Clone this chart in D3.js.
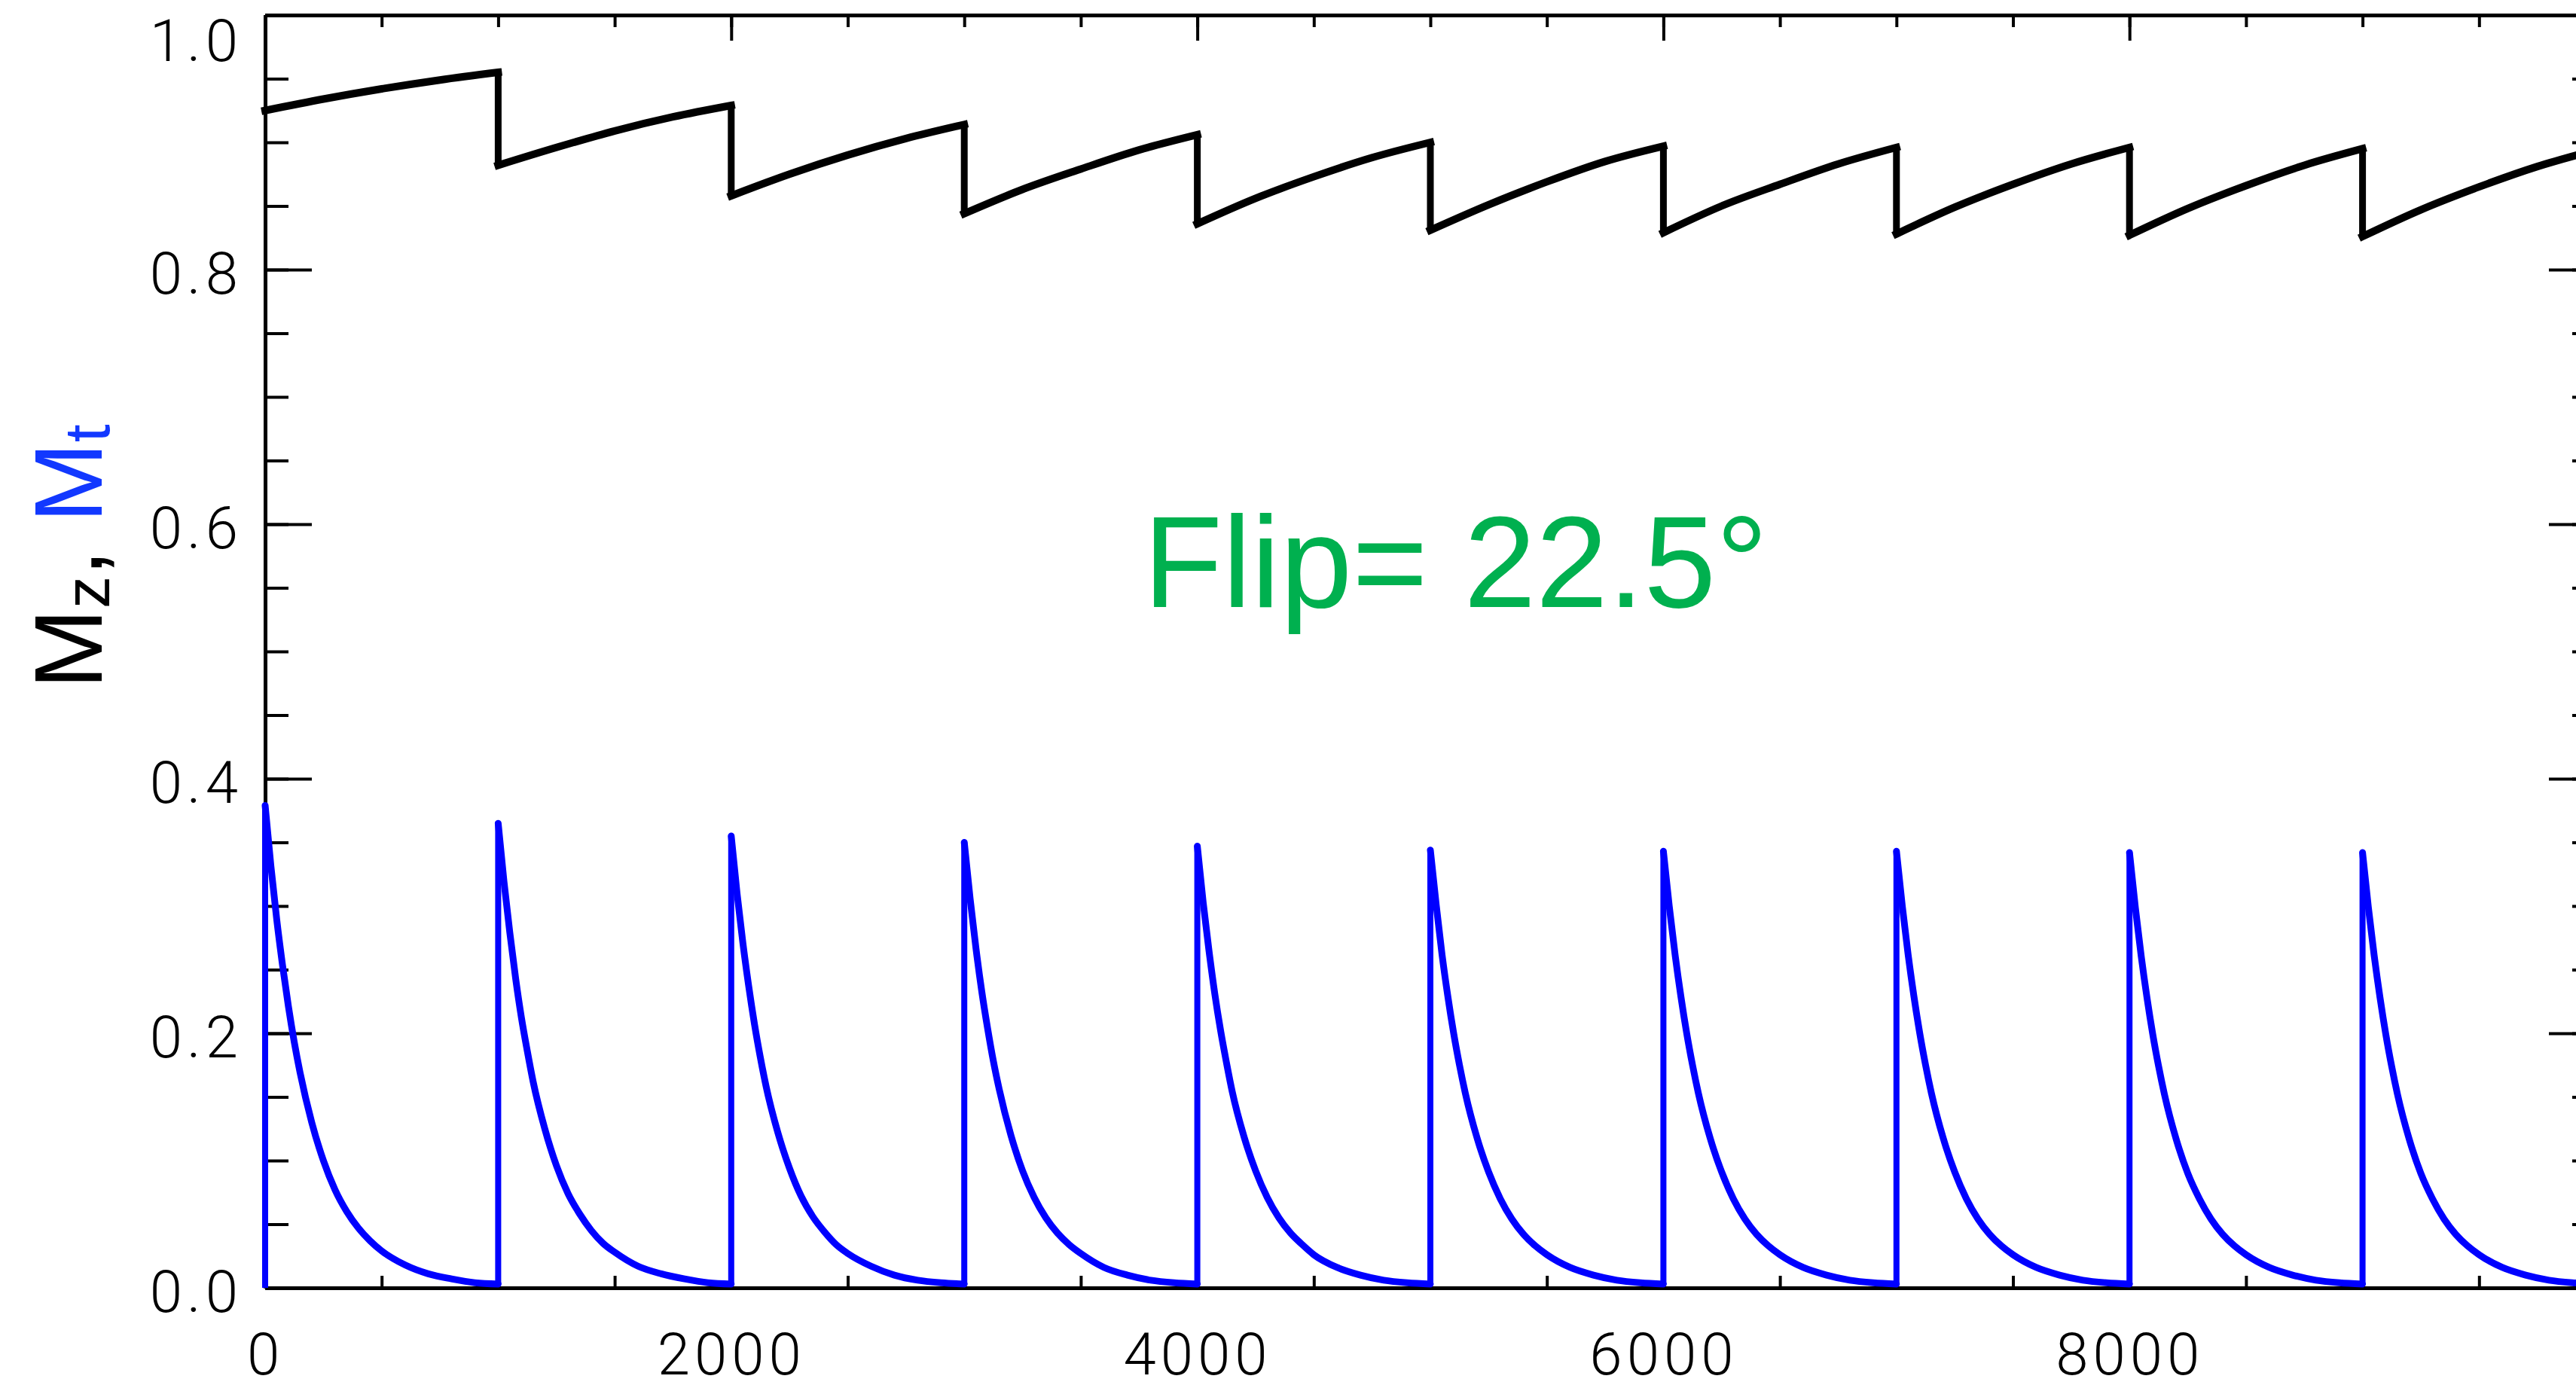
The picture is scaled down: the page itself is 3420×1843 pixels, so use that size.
<!DOCTYPE html>
<html>
<head>
<meta charset="utf-8">
<script src="https://cdn.jsdelivr.net/npm/d3@7"></script>
<style>
  body { margin: 0; background: #fff; }
  svg { display: block; }
</style>
</head>
<body>
<div id="chart"></div>
<script>
// pulse times and sampling offsets inside each repetition
const pulseTimes = [0, 1000, 2000, 3000, 4000, 5000, 6000, 7000, 8000, 9000];
const mtOffsets = [0, 25, 50, 75, 100, 125, 150, 200, 250, 300, 350, 400, 450, 500, 600, 700, 800, 900, 1000];
const mzOffsets = [0, 250, 500, 750, 1000];

// transverse magnetisation, one row per repetition
const mtValues = [
  [0.379, 0.331, 0.289, 0.253, 0.221, 0.193, 0.169, 0.130, 0.100, 0.077, 0.060, 0.047, 0.037, 0.029, 0.018, 0.011, 0.007, 0.004, 0.003],
  [0.365, 0.319, 0.279, 0.243, 0.212, 0.186, 0.162, 0.125, 0.096, 0.074, 0.058, 0.045, 0.035, 0.028, 0.017, 0.011, 0.007, 0.004, 0.003],
  [0.355, 0.310, 0.271, 0.237, 0.207, 0.181, 0.158, 0.122, 0.094, 0.072, 0.056, 0.044, 0.034, 0.027, 0.017, 0.010, 0.006, 0.004, 0.003],
  [0.350, 0.306, 0.267, 0.233, 0.204, 0.178, 0.156, 0.120, 0.092, 0.071, 0.055, 0.043, 0.034, 0.027, 0.016, 0.010, 0.006, 0.004, 0.003],
  [0.347, 0.303, 0.265, 0.231, 0.202, 0.177, 0.154, 0.119, 0.092, 0.071, 0.055, 0.043, 0.034, 0.026, 0.016, 0.010, 0.006, 0.004, 0.003],
  [0.344, 0.301, 0.262, 0.229, 0.200, 0.175, 0.153, 0.118, 0.091, 0.070, 0.054, 0.042, 0.033, 0.026, 0.016, 0.010, 0.006, 0.004, 0.003],
  [0.343, 0.300, 0.262, 0.229, 0.200, 0.175, 0.153, 0.118, 0.091, 0.070, 0.054, 0.042, 0.033, 0.026, 0.016, 0.010, 0.006, 0.004, 0.003],
  [0.343, 0.300, 0.262, 0.229, 0.200, 0.175, 0.153, 0.118, 0.091, 0.070, 0.054, 0.042, 0.033, 0.026, 0.016, 0.010, 0.006, 0.004, 0.003],
  [0.342, 0.299, 0.261, 0.228, 0.199, 0.174, 0.152, 0.117, 0.090, 0.070, 0.054, 0.042, 0.033, 0.026, 0.016, 0.010, 0.006, 0.004, 0.003],
  [0.342, 0.299, 0.261, 0.228, 0.199, 0.174, 0.152, 0.117, 0.090, 0.070, 0.054, 0.042, 0.033, 0.026, 0.016, 0.010, 0.006, 0.004, 0.003]
];

// longitudinal magnetisation, one row per repetition
const mzValues = [
  [0.925, 0.934, 0.942, 0.949, 0.955],
  [0.882, 0.896, 0.909, 0.920, 0.929],
  [0.858, 0.875, 0.890, 0.903, 0.914],
  [0.844, 0.863, 0.879, 0.894, 0.906],
  [0.836, 0.856, 0.873, 0.888, 0.900],
  [0.831, 0.851, 0.869, 0.885, 0.897],
  [0.829, 0.850, 0.867, 0.883, 0.896],
  [0.828, 0.849, 0.867, 0.883, 0.896],
  [0.827, 0.848, 0.866, 0.882, 0.895],
  [0.826, 0.847, 0.865, 0.881, 0.894]
];

const xMajor = [0, 2000, 4000, 6000, 8000, 10000];
const xLabels = ["0", "2000", "4000", "6000", "8000", ""];
const xMinor = d3.range(0, 10001, 500);
const yMajor = [0, 0.2, 0.4, 0.6, 0.8, 1.0];
const yLabels = ["0.0", "0.2", "0.4", "0.6", "0.8", "1.0"];
const yMinor = d3.range(0, 1.0001, 0.05);

var W = 3420, H = 1843;

var svg = d3.select("#chart")
  .append("svg")
  .attr("width", W)
  .attr("height", H);

svg.append("rect").attr("width", W).attr("height", H).attr("fill", "#fff");

var x = d3.scaleLinear().domain([0, 10000]).range([352, 3446]);
var y = d3.scaleLinear().domain([0, 1]).range([1710, 20]);

function styleAxis(g) {
  g.select(".domain").attr("stroke", "#000").attr("stroke-width", 5);
  g.selectAll(".tick line").attr("stroke", "#000").attr("stroke-width", 4);
  g.selectAll(".tick text")
    .attr("fill", "#000")
    .style("font-family", "Roboto, 'DejaVu Sans', sans-serif")
    .style("font-weight", 300)
    .style("font-size", "78px")
    .style("letter-spacing", "6px");
}

// minor ticks
svg.append("g").attr("transform", "translate(0," + y(0) + ")")
  .call(d3.axisBottom(x).tickValues(xMinor).tickSize(-16).tickSizeOuter(0).tickFormat(""))
  .call(styleAxis);
svg.append("g").attr("transform", "translate(0," + y(1) + ")")
  .call(d3.axisTop(x).tickValues(xMinor).tickSize(-16).tickSizeOuter(0).tickFormat(""))
  .call(styleAxis);
svg.append("g").attr("transform", "translate(" + x(0) + ",0)")
  .call(d3.axisLeft(y).tickValues(yMinor).tickSize(-31).tickSizeOuter(0).tickFormat(""))
  .call(styleAxis);
svg.append("g").attr("transform", "translate(" + x(10000) + ",0)")
  .call(d3.axisRight(y).tickValues(yMinor).tickSize(-31).tickSizeOuter(0).tickFormat(""))
  .call(styleAxis);

// major ticks with labels
svg.append("g").attr("transform", "translate(0," + y(0) + ")")
  .call(d3.axisBottom(x).tickValues(xMajor).tickSize(-34).tickSizeOuter(0).tickPadding(60)
    .tickFormat(function (d, i) { return xLabels[i]; }))
  .call(styleAxis);
svg.append("g").attr("transform", "translate(0," + y(1) + ")")
  .call(d3.axisTop(x).tickValues(xMajor).tickSize(-34).tickSizeOuter(0).tickFormat(""))
  .call(styleAxis);
var yAxisG = svg.append("g").attr("transform", "translate(" + x(0) + ",0)")
  .call(d3.axisLeft(y).tickValues(yMajor).tickSize(-62).tickSizeOuter(0).tickPadding(30)
    .tickFormat(function (d, i) { return yLabels[i]; }))
  .call(styleAxis);
yAxisG.selectAll(".tick text").attr("dy", "0.4em");
// top label sits inside the frame
yAxisG.selectAll(".tick text").filter(function (d) { return d === 1; }).attr("y", 29);
svg.append("g").attr("transform", "translate(" + x(10000) + ",0)")
  .call(d3.axisRight(y).tickValues(yMajor).tickSize(-62).tickSizeOuter(0).tickFormat(""))
  .call(styleAxis);

var line = d3.line()
  .x(function (d) { return x(d[0]); })
  .y(function (d) { return y(d[1]); })
  .curve(d3.curveMonotoneX);

// Mz curve
pulseTimes.forEach(function (t0, k) {
  var pts = mzOffsets.map(function (o, j) { return [t0 + o, mzValues[k][j]]; });
  svg.append("path").datum(pts)
    .attr("d", line)
    .attr("fill", "none")
    .attr("stroke", "#000")
    .attr("stroke-width", 10)
    .attr("stroke-linecap", "square");
  if (k > 0) {
    var prev = mzValues[k - 1];
    svg.append("line")
      .attr("x1", x(t0)).attr("x2", x(t0))
      .attr("y1", y(prev[prev.length - 1])).attr("y2", y(mzValues[k][0]))
      .attr("stroke", "#000").attr("stroke-width", 9);
  }
});

// Mt curve
pulseTimes.forEach(function (t0, k) {
  var pts = mtOffsets.map(function (o, j) { return [t0 + o, mtValues[k][j]]; });
  svg.append("path").datum(pts)
    .attr("d", line)
    .attr("fill", "none")
    .attr("stroke", "#0000ff")
    .attr("stroke-width", 9)
    .attr("stroke-linejoin", "round")
    .attr("stroke-linecap", "round");
  var base = k > 0 ? mtValues[k - 1][mtValues[k - 1].length - 1] : 0;
  svg.append("line")
    .attr("x1", x(t0)).attr("x2", x(t0))
    .attr("y1", y(base)).attr("y2", y(mtValues[k][0]))
    .attr("stroke", "#0000ff").attr("stroke-width", 8);
});

// y axis title
var title = svg.append("text")
  .attr("transform", "translate(135,739) rotate(-90)")
  .attr("text-anchor", "middle")
  .style("font-family", "'Liberation Sans', Arial, sans-serif")
  .style("font-size", "128px");
title.append("tspan").attr("fill", "#000").text("M");
title.append("tspan").attr("fill", "#000").attr("dy", 10).style("font-size", "86px").text("z");
title.append("tspan").attr("fill", "#000").attr("dy", -10).text(", ");
title.append("tspan").attr("fill", "#1238ff").text("M");
title.append("tspan").attr("fill", "#1238ff").attr("dy", 10).style("font-size", "86px").text("t");

// annotation
svg.append("text")
  .attr("x", 1518)
  .attr("y", 806)
  .attr("fill", "#00b04f")
  .style("font-family", "'Liberation Sans', Arial, sans-serif")
  .style("font-size", "172px")
  .text("Flip= 22.5°");
</script>
</body>
</html>
